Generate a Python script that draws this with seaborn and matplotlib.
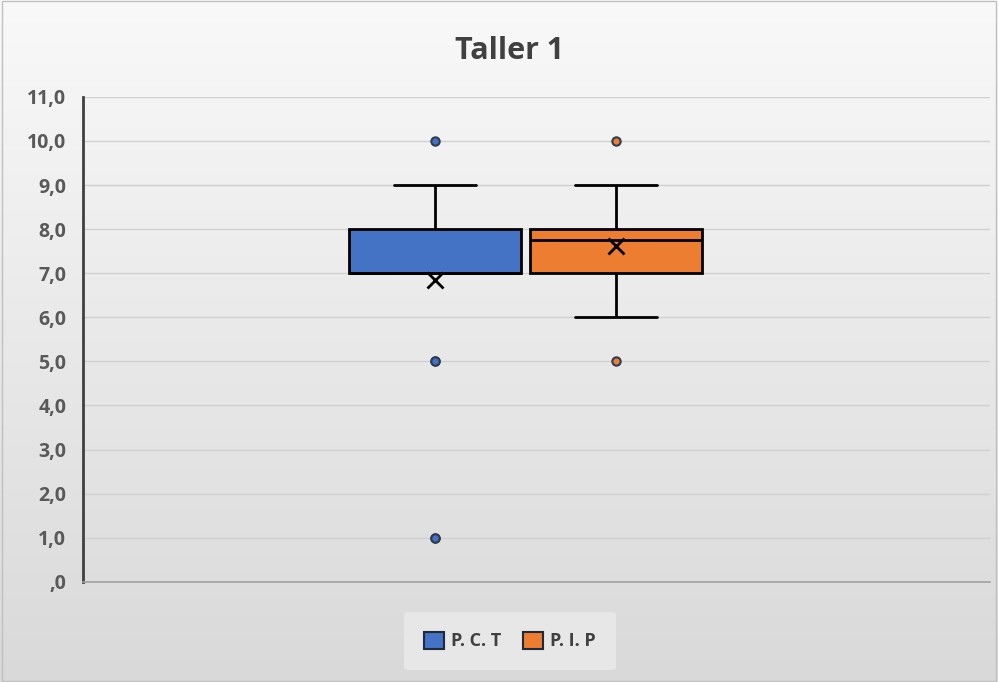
import matplotlib.pyplot as plt
import matplotlib.patches as mpatches
import numpy as np
import pandas as pd
import seaborn as sns

# notas por grupo
pct_notas = [1, 1, 5, 5, 7, 7, 7, 7, 7, 7, 7, 8, 8, 8, 8, 8, 8, 9, 9, 10]
pip_notas = [5, 6, 7, 7, 7, 7, 7, 7, 7, 7.5, 8, 8, 8, 8, 8, 8, 9, 9, 9, 10]
grupos = ["P. C. T", "P. I. P"]
colores = ["#4472C4", "#ED7D31"]
yticks = list(range(0, 12))
ytick_labels = [",0"] + [f"{v},0" for v in range(1, 12)]

df = pd.DataFrame({
    "taller": "Taller 1",
    "grupo": [grupos[0]] * len(pct_notas) + [grupos[1]] * len(pip_notas),
    "nota": pct_notas + pip_notas,
})

sns.set_style("white")
plt.rcParams["font.family"] = ["Open Sans", "DejaVu Sans"]

fig = plt.figure(figsize=(9.98, 6.82), dpi=100)

# fondo degradado tipo Excel
bg = fig.add_axes([0, 0, 1, 1], zorder=-10)
grad = np.linspace(0, 1, 256).reshape(-1, 1)
bg.imshow(grad, aspect="auto", cmap=plt.matplotlib.colors.LinearSegmentedColormap.from_list(
    "g", ["#f9f9f9", "#d9d9d9"]), extent=[0, 1, 0, 1], origin="upper")
bg.add_patch(mpatches.Rectangle((0.002, 0.002), 0.996, 0.996, fill=False,
                                edgecolor="#c0c0c0", lw=1, transform=bg.transAxes))
bg.set_axis_off()

ax = fig.add_axes([0.083, 0.147, 0.909, 0.711])
ax.patch.set_alpha(0)

sns.boxplot(data=df, x="taller", y="nota", hue="grupo", palette=colores,
            saturation=1, width=0.4, gap=0.05, linewidth=2, linecolor="black",
            showmeans=True, whis=1.5, ax=ax,
            meanprops=dict(marker="x", markeredgecolor="black", markersize=11,
                           markeredgewidth=2),
            flierprops=dict(marker="o", markersize=6, markeredgecolor="#2f3b50",
                            markeredgewidth=1.5),
            capwidths=0.09)

# color de relleno de los atipicos segun el grupo
for line in ax.lines:
    if line.get_marker() == "o" and len(line.get_xdata()) > 0:
        xpos = np.mean(line.get_xdata())
        line.set_markerfacecolor(colores[0] if xpos < 0 else colores[1])

ax.set_ylim(0, 11)
ax.set_xlim(-0.488, 0.512)
ax.set_yticks(yticks)
ax.set_yticklabels(ytick_labels, fontsize=14, fontweight="bold", color="#595959")
ax.set_xticks([])
ax.set_xlabel("")
ax.set_ylabel("")
ax.yaxis.grid(True, color="#d0d0d0", lw=1)
ax.set_axisbelow(True)
ax.tick_params(axis="y", length=0, pad=12)
for s in ["top", "right"]:
    ax.spines[s].set_visible(False)
ax.spines["left"].set_color("#404040")
ax.spines["left"].set_linewidth(2)
ax.spines["bottom"].set_color("#a0a0a0")
ax.spines["bottom"].set_linewidth(1.2)

fig.text(0.511, 0.925, "Taller 1", ha="center", va="center", fontsize=22,
         fontweight="bold", color="#404040")

sns.move_legend(ax, "center", bbox_to_anchor=(0.511, 0.06),
                bbox_transform=fig.transFigure, ncol=2, title=None,
                frameon=True, fontsize=13, handlelength=1.1, handleheight=1.1,
                handletextpad=0.4, columnspacing=1.2, borderpad=1.1)
leg = ax.get_legend()
leg.get_frame().set_facecolor("#ebebeb")
leg.get_frame().set_edgecolor("none")
for t in leg.get_texts():
    t.set_color("#404040")
    t.set_fontweight("bold")
for h in leg.legend_handles:
    h.set_edgecolor("#1f2a3a")
    h.set_linewidth(1.5)

fig.savefig("out.png", dpi=100)
